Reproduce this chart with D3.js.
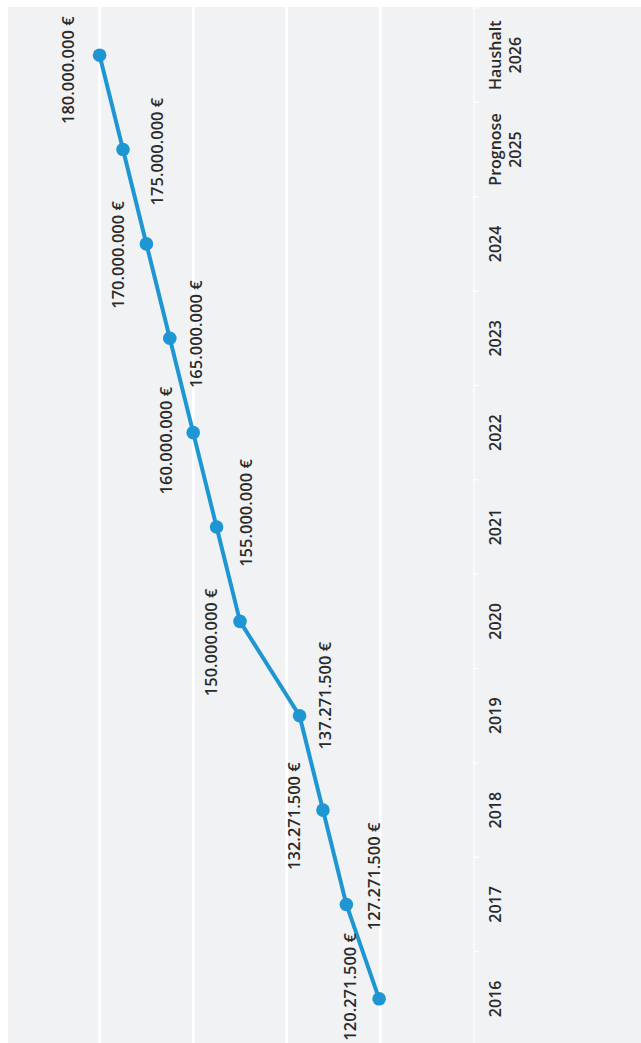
<!DOCTYPE html>
<html>
<head>
<meta charset="utf-8">
<script src="https://cdn.jsdelivr.net/npm/d3@7"></script>
<style>
  html, body { margin: 0; padding: 0; background: #ffffff; }
  svg { display: block; }
</style>
</head>
<body>
<svg id="chart" width="641" height="1043"></svg>
<script>
// ---------- data ----------
const categories = ["2016", "2017", "2018", "2019", "2020", "2021", "2022", "2023", "2024", "Prognose\n2025", "Haushalt\n2026"];
const values = [120271500, 127271500, 132271500, 137271500, 150000000, 155000000, 160000000, 165000000, 170000000, 175000000, 180000000];
const gridValues = [120000000, 140000000, 160000000, 180000000];
const valueDomain = [100000000, 200000000];

// ---------- layout / style ----------
const W = 641, H = 1043;               // page size
const CH = W;                          // unrotated chart height
const BLUE = "#1e96d3";
const BG = "#f1f2f4";
const TEXT = "#2a2a2a";
const FONT = "'Open Sans', 'Noto Sans', sans-serif";
const labelNudgeX = [12, 28, -6, 20, -21, 14, -8, 4, -11, -2, -15]; // horizontal label offsets (px)
const labelNudgeY = [0, 0, 0, -3, 0, 1, 2, -2, 1, 6, -3];           // vertical label offsets (px)

const svg = d3.select("#chart");
const g = svg.append("g").attr("transform", `translate(0,${H}) rotate(-90)`);

// background (unrotated coords)
g.append("rect")
  .attr("x", -5).attr("y", 8)
  .attr("width", 1036 + 5).attr("height", CH - 8)
  .attr("fill", BG);

const x = d3.scaleBand().domain(categories).range([-3, 1035]).paddingInner(0).paddingOuter(0);
const y = d3.scaleLinear().domain(valueDomain).range([474, 6]);

// gridlines
g.selectAll("line.grid").data(gridValues).join("line")
  .attr("class", "grid")
  .attr("x1", -5).attr("x2", 1036)
  .attr("y1", d => y(d)).attr("y2", d => y(d))
  .attr("stroke", "#ffffff").attr("stroke-width", 2.6);

// category axis
const axis = g.append("g").attr("transform", `translate(0,${y(valueDomain[0])})`);
axis.append("line")
  .attr("x1", -5).attr("x2", 1036).attr("y1", 0).attr("y2", 0)
  .attr("stroke", "#ffffff").attr("stroke-width", 1.2);
const bounds = categories.map(c => x(c)).concat([x.range()[1]]);
axis.selectAll("line.tick").data(bounds).join("line")
  .attr("class", "tick")
  .attr("x1", d => d).attr("x2", d => d)
  .attr("y1", 0).attr("y2", 5)
  .attr("stroke", "#ffffff").attr("stroke-width", 1.2);

axis.selectAll("text.cat").data(categories).join("text")
  .attr("class", "cat")
  .attr("x", d => x(d) + x.bandwidth() / 2)
  .attr("y", 26.5)
  .attr("text-anchor", "middle")
  .attr("font-family", FONT)
  .attr("font-weight", 600)
  .attr("font-size", 16)
  .attr("fill", TEXT)
  .each(function(d) {
    const lines = d.split("\n");
    const t = d3.select(this);
    lines.forEach((ln, i) => {
      t.append("tspan")
        .attr("x", x(d) + x.bandwidth() / 2)
        .attr("dy", i === 0 ? 0 : 20)
        .text(ln);
    });
  });

// line
const pts = categories.map((c, i) => ({ c, v: values[i], i }));
const line = d3.line().x(d => x(d.c) + x.bandwidth() / 2).y(d => y(d.v));
g.append("path")
  .datum(pts)
  .attr("d", line)
  .attr("fill", "none")
  .attr("stroke", BLUE)
  .attr("stroke-width", 4)
  .attr("stroke-linejoin", "round");

g.selectAll("circle.pt").data(pts).join("circle")
  .attr("class", "pt")
  .attr("cx", d => x(d.c) + x.bandwidth() / 2)
  .attr("cy", d => y(d.v))
  .attr("r", 6.8)
  .attr("fill", BLUE);

// data labels
const de = d3.formatLocale({ decimal: ",", thousands: ".", grouping: [3], currency: ["", " €"] });
const fmt = de.format("$,.0f");
g.selectAll("text.lbl").data(pts).join("text")
  .attr("class", "lbl")
  .attr("x", d => x(d.c) + x.bandwidth() / 2 + labelNudgeX[d.i])
  .attr("y", d => y(d.v) + (d.i % 2 === 0 ? -23 : 34) + labelNudgeY[d.i])
  .attr("text-anchor", "middle")
  .attr("font-family", FONT)
  .attr("font-weight", 600)
  .attr("font-size", 16.5)
  .attr("fill", TEXT)
  .text(d => fmt(d.v));
</script>
</body>
</html>
